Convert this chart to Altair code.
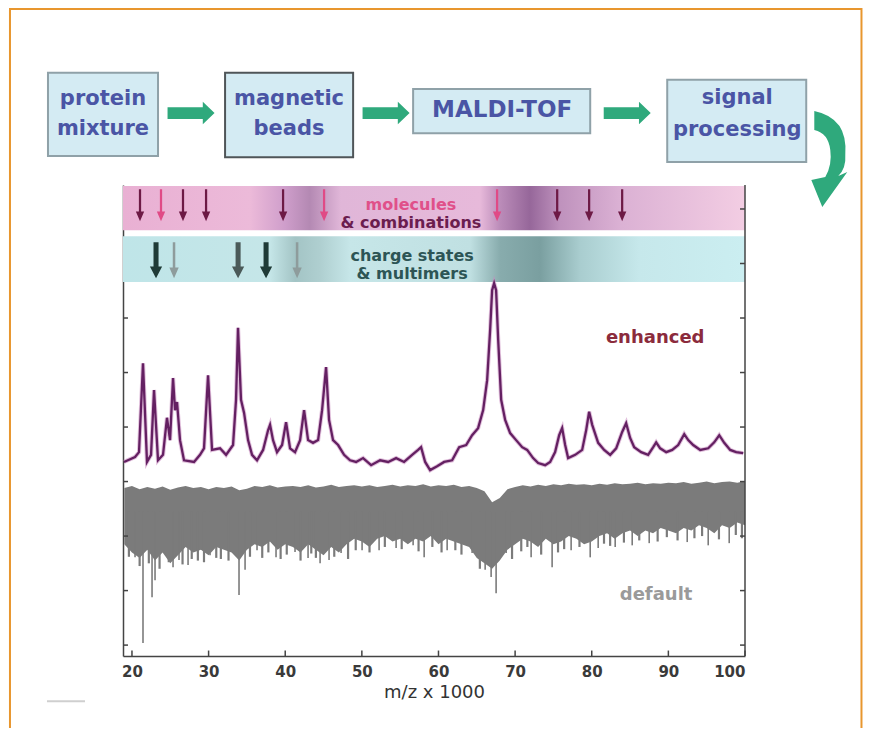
import altair as alt
import pandas as pd

# ---------------- data (m/z x 1000 on x, intensity in tick units on y) ----------------
X_DOMAIN = [18.83, 100]
Y_DOMAIN = [-0.2, 8.44]
x_ticks = [20, 30, 40, 50, 60, 70, 80, 90, 100]

# enhanced spectrum (purple)
enh_mz = [18.96, 20.40, 20.92, 21.44, 21.96, 22.49, 22.88, 23.40, 24.05, 24.57,
          24.97, 25.36, 25.62, 25.88, 26.27, 26.79, 28.10, 28.88, 29.40, 29.93,
          30.45, 31.49, 32.28, 33.19, 33.58, 33.84, 34.23, 34.63, 35.15, 35.67,
          36.32, 37.11, 37.76, 38.02, 38.41, 38.93, 39.59, 40.11, 40.63, 41.28,
          41.94, 42.46, 42.98, 43.63, 44.29, 44.81, 45.33, 45.72, 46.24, 46.90,
          47.68, 48.46, 49.25, 50.16, 51.21, 52.38, 53.43, 54.47, 55.51, 56.56,
          57.34, 57.73, 58.26, 58.91, 59.82, 60.74, 61.78, 62.70, 63.61, 64.39,
          65.17, 65.83, 66.35, 66.74, 67.00, 67.26, 67.52, 67.79, 68.18, 68.70,
          69.35, 70.13, 70.92, 71.57, 72.35, 73.01, 73.92, 74.57, 75.22, 75.75,
          76.14, 76.53, 76.92, 77.84, 78.75, 79.27, 79.66, 80.06, 80.84, 81.62,
          82.41, 83.19, 83.97, 84.49, 85.01, 85.54, 86.45, 87.36, 88.02, 88.41,
          88.93, 89.72, 90.50, 91.28, 92.07, 92.59, 93.24, 94.16, 95.20, 95.98,
          96.64, 97.29, 98.07, 98.85, 99.77]
enh_int = [3.36, 3.45, 3.54, 5.17, 3.36, 3.49, 4.68, 3.39, 3.49, 4.17,
           3.76, 4.90, 4.31, 4.46, 3.76, 3.39, 3.36, 3.49, 3.61, 4.95,
           3.58, 3.61, 3.49, 3.67, 4.50, 5.82, 4.50, 4.26, 3.76, 3.49,
           3.39, 3.58, 3.94, 4.04, 3.76, 3.54, 3.67, 4.09, 3.61, 3.54,
           3.76, 4.31, 3.76, 3.71, 3.76, 4.31, 5.10, 4.13, 3.76, 3.67,
           3.49, 3.39, 3.36, 3.43, 3.30, 3.39, 3.36, 3.43, 3.36, 3.49,
           3.58, 3.63, 3.36, 3.21, 3.28, 3.36, 3.39, 3.63, 3.67, 3.85,
           3.98, 4.31, 4.86, 5.78, 6.51, 6.64, 6.51, 5.60, 4.50, 4.13,
           3.89, 3.76, 3.63, 3.58, 3.43, 3.34, 3.30, 3.36, 3.54, 3.85,
           3.98, 3.67, 3.43, 3.49, 3.58, 3.94, 4.28, 4.04, 3.71, 3.58,
           3.49, 3.61, 3.91, 4.07, 3.80, 3.63, 3.54, 3.49, 3.63, 3.72,
           3.61, 3.54, 3.58, 3.67, 3.87, 3.76, 3.67, 3.58, 3.61, 3.72,
           3.85, 3.71, 3.58, 3.54, 3.52]

# default spectrum (grey): dense noise envelope sampled every 1 m/z
def_mz = list(range(19, 101))
def_top = [2.88, 2.92, 2.86, 2.90, 2.87, 2.91, 2.85, 2.89, 2.92, 2.88, 2.90, 2.86,
           2.90, 2.88, 2.91, 2.84, 2.87, 2.92, 2.90, 2.93, 2.89, 2.91,
           2.92, 2.90, 2.93, 2.89, 2.91, 2.94, 2.90, 2.92, 2.93, 2.91,
           2.93, 2.90, 2.92, 2.94, 2.91, 2.93, 2.92, 2.95, 2.91, 2.93,
           2.92, 2.94, 2.90, 2.92, 2.88, 2.82, 2.62, 2.70, 2.86, 2.90,
           2.93, 2.91, 2.94, 2.92, 2.95, 2.93, 2.96, 2.94, 2.95, 2.93,
           2.96, 2.94, 2.97, 2.95, 2.96, 2.98, 2.95, 2.97, 2.96, 2.98,
           2.97, 2.99, 2.96, 2.98, 3.00, 2.97, 2.99, 3.00, 2.98, 3.01]
def_bottom = [1.85, 1.70, 1.60, 1.75, 1.55, 1.70, 1.50, 1.65, 1.80, 1.70, 1.75, 1.65,
              1.80, 1.75, 1.70, 1.55, 1.75, 1.85, 1.80, 1.90, 1.75, 1.85,
              1.80, 1.70, 1.85, 1.75, 1.65, 1.80, 1.70, 1.85, 1.95, 1.90,
              1.80, 1.95, 2.00, 1.90, 1.95, 1.85, 1.95, 1.90, 2.00, 1.85,
              1.95, 1.90, 1.85, 1.80, 1.60, 1.50, 1.40, 1.55, 1.75, 1.85,
              1.95, 1.90, 1.80, 1.95, 1.85, 1.90, 2.00, 1.95, 1.85, 1.90,
              2.00, 2.05, 1.95, 2.05, 2.10, 2.00, 2.10, 2.05, 2.15, 2.10,
              2.05, 2.15, 2.10, 2.20, 2.15, 2.05, 2.20, 2.15, 2.25, 2.20]
# long downward spikes of the default spectrum
spike_mz = [20.40, 21.44, 22.62, 23.01, 24.31, 25.36, 26.14, 27.32, 30.19, 32.02,
            33.97, 34.76, 36.32, 38.80, 41.28, 42.98, 44.55, 45.72, 47.29, 50.03,
            52.25, 54.47, 56.69, 58.13, 61.13, 64.39, 66.09, 66.87, 67.52, 68.83,
            72.09, 74.83, 77.31, 79.80, 80.84, 83.06, 85.28, 87.50, 92.46, 95.20, 97.94]
spike_low = [1.61, 0.04, 0.88, 1.19, 1.69, 1.43, 1.56, 1.47, 1.65, 1.80,
             0.92, 1.38, 1.74, 1.61, 1.71, 1.60, 1.50, 1.56, 1.69, 1.74,
             1.74, 1.78, 1.83, 1.61, 1.74, 1.69, 1.38, 1.25, 0.95, 1.69,
             1.61, 1.43, 1.74, 1.61, 1.78, 1.80, 1.83, 1.87, 1.89, 1.83, 1.87]
# short ragged teeth on the lower edge of the default band
tooth_mz = [19.6, 21.0, 22.2, 23.6, 24.8, 26.6, 27.8, 28.6, 29.4, 31.0,
            31.6, 32.6, 35.4, 37.0, 37.8, 39.4, 40.2, 42.0, 43.4, 44.0,
            46.4, 48.2, 49.2, 51.0, 53.0, 55.2, 57.4, 59.2, 60.4, 62.2,
            63.0, 65.4, 69.6, 70.8, 71.6, 73.4, 75.6, 76.4, 78.4, 81.6,
            82.4, 84.2, 86.2, 88.6, 89.8, 91.2, 93.4, 94.4, 96.6, 98.8, 99.6]
tooth_low = [1.62, 1.45, 1.50, 1.40, 1.52, 1.48, 1.58, 1.55, 1.52, 1.60,
             1.58, 1.55, 1.62, 1.60, 1.70, 1.58, 1.66, 1.55, 1.68, 1.60,
             1.62, 1.58, 1.74, 1.70, 1.80, 1.76, 1.72, 1.80, 1.70, 1.74,
             1.66, 1.40, 1.58, 1.72, 1.80, 1.66, 1.70, 1.76, 1.80, 1.86,
             1.82, 1.88, 1.92, 1.90, 1.98, 1.92, 1.96, 2.00, 1.94, 2.02, 1.96]

# annotation arrows in the two bands
mol_arrow_mz = [21.05, 23.79, 26.66, 29.67, 39.72, 45.07, 67.65, 75.49, 79.66, 83.97]
mol_arrow_kind = ["dark", "pink", "dark", "dark", "dark", "pink", "pink", "dark", "dark", "dark"]
chg_arrow_mz = [23.14, 25.49, 33.85, 37.50, 41.55]
chg_arrow_kind = ["dark", "light", "mid", "dark", "light"]

# flow-chart steps
step_labels = [["protein", "mixture"], ["magnetic", "beads"], ["MALDI-TOF"], ["signal", "processing"]]

# ---------------- scales, axes ----------------
xs = alt.Scale(domain=X_DOMAIN, nice=False, zero=False)
ys = alt.Scale(domain=Y_DOMAIN, nice=False, zero=False)
FONT = "DejaVu Sans"
xaxis = alt.Axis(values=x_ticks, format="d", title="m/z x 1000", grid=False,
                 tickSize=0, labelPadding=8, labelFont=FONT, labelFontSize=15,
                 labelFontWeight="bold", labelColor="#3a3a3a", domainColor="#444444",
                 domainWidth=1.5, titleFont=FONT, titleFontSize=18,
                 titleFontWeight="normal", titleColor="#333333", titlePadding=4)
yaxis = alt.Axis(labels=False, ticks=False, grid=False, title="",
                 domainColor="#444444", domainWidth=1.5)


def X(f):
    return alt.X(f"{f}:Q", scale=xs, axis=xaxis)


def Y(f):
    return alt.Y(f"{f}:Q", scale=ys, axis=yaxis)


def text_layer(df, color, size, weight="bold"):
    return alt.Chart(df).mark_text(font=FONT, fontSize=size, fontWeight=weight, color=color,
                                   align="center", baseline="middle").encode(
        x=X("x"), y=Y("y"), text="t:N")


layers = []

# outer orange frame
frame = pd.DataFrame({"x": [4.08], "x2": [115.2], "y": [11.67], "y2": [-1.9]})
layers.append(alt.Chart(frame).mark_rect(fillOpacity=0, stroke="#e8962e", strokeWidth=2).encode(
    x=X("x"), x2="x2", y=Y("y"), y2="y2"))
# faint grey dash at lower left
dash = pd.DataFrame({"x": [8.91], "x2": [13.87], "y": [-1.03]})
layers.append(alt.Chart(dash).mark_rule(color="#cfcfcf", strokeWidth=2).encode(
    x=X("x"), x2="x2", y=Y("y")))

# flow chart boxes
boxes = pd.DataFrame({
    "x": [9.04, 32.15, 56.69, 89.85],
    "x2": [23.40, 48.86, 79.80, 107.99],
    "y": [10.50, 10.50, 10.20, 10.37],
    "y2": [8.97, 8.95, 9.39, 8.86],
    "kind": ["light", "dark", "light", "light"],
})
layers.append(alt.Chart(boxes).transform_filter(alt.datum.kind == "light").mark_rect(
    fill="#d4ebf3", stroke="#8fa1a8", strokeWidth=2).encode(x=X("x"), x2="x2", y=Y("y"), y2="y2"))
layers.append(alt.Chart(boxes).transform_filter(alt.datum.kind == "dark").mark_rect(
    fill="#d4ebf3", stroke="#4f5558", strokeWidth=2).encode(x=X("x"), x2="x2", y=Y("y"), y2="y2"))

box_text = pd.DataFrame({
    "x": [16.22, 16.22, 40.50, 40.50, 98.99, 98.99],
    "y": [10.02, 9.47, 10.02, 9.47, 10.04, 9.45],
    "t": step_labels[0] + step_labels[1] + step_labels[3],
})
layers.append(text_layer(box_text, "#4a55a5", 21))
maldi = pd.DataFrame({"x": [68.31], "y": [9.81], "t": step_labels[2]})
layers.append(text_layer(maldi, "#4a55a5", 23))

# green straight arrows
ARROW = "M-1,-0.25L0.5,-0.25L0.5,-0.48L1,0L0.5,0.48L0.5,0.25L-1,0.25Z"
green = pd.DataFrame({"x": [27.71, 53.16, 84.63], "y": [9.76, 9.76, 9.76]})
layers.append(alt.Chart(green).mark_point(shape=ARROW, size=2209, filled=True, fill="#2fa97c",
                                           strokeWidth=0, opacity=1).encode(x=X("x"), y=Y("y")))
# curved green arrow
CURVE = ("M-0.28,-0.98Q0.4,-0.84,0.34,-0.1Q0.36,0.16,0.2,0.32L0.38,0.24L-0.12,0.94"
         "L-0.34,0.4L-0.06,0.34Q0.08,0.1,0.04,-0.2Q0,-0.54,-0.28,-0.6Z")
curve = pd.DataFrame({"x": [110.87], "y": [8.90]})
layers.append(alt.Chart(curve).mark_point(shape=CURVE, size=10000, filled=True, fill="#2fa97c",
                                           strokeWidth=0, opacity=1).encode(x=X("x"), y=Y("y")))

# bands with gradients
pink_grad = alt.Gradient(gradient="linear", x1=0, x2=1, y1=0, y2=0, stops=[
    alt.GradientStop(offset=0.0, color="#e9b0d3"),
    alt.GradientStop(offset=0.204, color="#ecbad9"),
    alt.GradientStop(offset=0.26, color="#cf9ecb"),
    alt.GradientStop(offset=0.30, color="#b489b3"),
    alt.GradientStop(offset=0.35, color="#e0b6d8"),
    alt.GradientStop(offset=0.574, color="#e7b9da"),
    alt.GradientStop(offset=0.606, color="#bb8cb9"),
    alt.GradientStop(offset=0.654, color="#96679a"),
    alt.GradientStop(offset=0.703, color="#bf92bd"),
    alt.GradientStop(offset=0.80, color="#dbb1d4"),
    alt.GradientStop(offset=1.0, color="#f3cde3"),
])
cyan_grad = alt.Gradient(gradient="linear", x1=0, x2=1, y1=0, y2=0, stops=[
    alt.GradientStop(offset=0.0, color="#bfe5e8"),
    alt.GradientStop(offset=0.236, color="#c5e6e8"),
    alt.GradientStop(offset=0.277, color="#a3c4c5"),
    alt.GradientStop(offset=0.317, color="#afcfd0"),
    alt.GradientStop(offset=0.365, color="#c6e6e8"),
    alt.GradientStop(offset=0.558, color="#c0e0e2"),
    alt.GradientStop(offset=0.606, color="#88acad"),
    alt.GradientStop(offset=0.67, color="#7a9fa0"),
    alt.GradientStop(offset=0.735, color="#a9cdcf"),
    alt.GradientStop(offset=0.83, color="#c6e8eb"),
    alt.GradientStop(offset=1.0, color="#cbeef1"),
])
band1 = pd.DataFrame({"x": [X_DOMAIN[0]], "x2": [X_DOMAIN[1]], "y": [8.42], "y2": [7.61]})
band2 = pd.DataFrame({"x": [X_DOMAIN[0]], "x2": [X_DOMAIN[1]], "y": [7.50], "y2": [6.66]})
layers.append(alt.Chart(band1).mark_rect(fill=pink_grad).encode(x=X("x"), x2="x2", y=Y("y"), y2="y2"))
layers.append(alt.Chart(band2).mark_rect(fill=cyan_grad).encode(x=X("x"), x2="x2", y=Y("y"), y2="y2"))

layers.append(text_layer(pd.DataFrame({"x": [56.40], "y": [8.07], "t": ["molecules"]}), "#e0508a", 16))
layers.append(text_layer(pd.DataFrame({"x": [56.40], "y": [7.74], "t": ["& combinations"]}), "#6b1d4f", 16))
layers.append(text_layer(pd.DataFrame({"x": [56.56, 56.56], "y": [7.14, 6.81],
                                       "t": ["charge states", "& multimers"]}), "#2d5555", 16))

THIN = "M-0.07,-1L0.07,-1L0.07,0.4L0.26,0.4L0,1L-0.26,0.4L-0.07,0.4Z"
THICK = "M-0.14,-1L0.14,-1L0.14,0.35L0.34,0.35L0,1L-0.34,0.35L-0.14,0.35Z"
mol = pd.DataFrame({"x": mol_arrow_mz, "y": [8.07] * len(mol_arrow_mz), "k": mol_arrow_kind})
for kind, col in (("dark", "#6d1a45"), ("pink", "#e04a86")):
    layers.append(alt.Chart(mol).transform_filter(alt.datum.k == kind).mark_point(
        shape=THIN, size=1024, filled=True, fill=col, strokeWidth=0, opacity=1).encode(
        x=X("x"), y=Y("y")))
chg = pd.DataFrame({"x": chg_arrow_mz, "y": [7.06] * len(chg_arrow_mz), "k": chg_arrow_kind})
for kind, col, shp in (("dark", "#1f3b37", THICK), ("mid", "#4b5a59", THICK), ("light", "#8e9c9c", THIN)):
    layers.append(alt.Chart(chg).transform_filter(alt.datum.k == kind).mark_point(
        shape=shp, size=1296, filled=True, fill=col, strokeWidth=0, opacity=1).encode(
        x=X("x"), y=Y("y")))

# default spectrum
dflt = pd.DataFrame({"mz": def_mz, "top": def_top, "bot": def_bottom})
layers.append(alt.Chart(dflt).mark_area(color="#7b7b7b", interpolate="linear").encode(
    x=X("mz"), y=Y("top"), y2="bot"))
tth = pd.DataFrame({"mz": tooth_mz, "low": tooth_low})
tth["start"] = 2.45
layers.append(alt.Chart(tth).mark_rule(color="#7b7b7b", strokeWidth=2.2).encode(
    x=X("mz"), y=Y("start"), y2="low"))
spk = pd.DataFrame({"mz": spike_mz, "low": spike_low})
spk["start"] = 2.45
layers.append(alt.Chart(spk).mark_rule(color="#7b7b7b", strokeWidth=1.6).encode(
    x=X("mz"), y=Y("start"), y2="low"))

# enhanced spectrum
enh = pd.DataFrame({"mz": enh_mz, "v": enh_int})
layers.append(alt.Chart(enh).mark_line(color="#c98cc0", strokeWidth=4.2, opacity=0.55).encode(
    x=X("mz"), y=Y("v")))
layers.append(alt.Chart(enh).mark_line(color="#642062", strokeWidth=2.3).encode(
    x=X("mz"), y=Y("v")))

# labels of the two traces
layers.append(text_layer(pd.DataFrame({"x": [88.28], "y": [5.63], "t": ["enhanced"]}), "#8b2b3c", 18))
layers.append(text_layer(pd.DataFrame({"x": [88.40], "y": [0.92], "t": ["default"]}), "#9a9a9a", 18))

# inward ticks and right frame line
yt_left = pd.DataFrame({"x": [X_DOMAIN[0]] * 7, "x2": [19.48] * 7, "y": [0, 1, 2, 3, 4, 5, 6]})
yt_right = pd.DataFrame({"x": [99.35] * 9, "x2": [X_DOMAIN[1]] * 9, "y": [0, 1, 2, 3, 4, 5, 6, 7, 8]})
xt = pd.DataFrame({"x": x_ticks, "y": [Y_DOMAIN[0]] * len(x_ticks), "y2": [-0.1] * len(x_ticks)})
for d in (yt_left, yt_right):
    layers.append(alt.Chart(d).mark_rule(color="#444444", strokeWidth=1.5).encode(
        x=X("x"), x2="x2", y=Y("y")))
layers.append(alt.Chart(xt).mark_rule(color="#444444", strokeWidth=1.5).encode(
    x=X("x"), y=Y("y"), y2="y2"))
rframe = pd.DataFrame({"x": [X_DOMAIN[1]], "y": [Y_DOMAIN[0]], "y2": [Y_DOMAIN[1]]})
layers.append(alt.Chart(rframe).mark_rule(color="#444444", strokeWidth=1.5).encode(
    x=X("x"), y=Y("y"), y2="y2"))

chart = alt.layer(*layers).properties(
    width=622, height=471,
    autosize=alt.AutoSizeParams(type="none"),
    padding={"left": 115, "top": 177, "right": 119, "bottom": 72},
).configure_view(strokeWidth=0)

chart.save("out.html", embed_options={"renderer": "svg", "actions": False})
